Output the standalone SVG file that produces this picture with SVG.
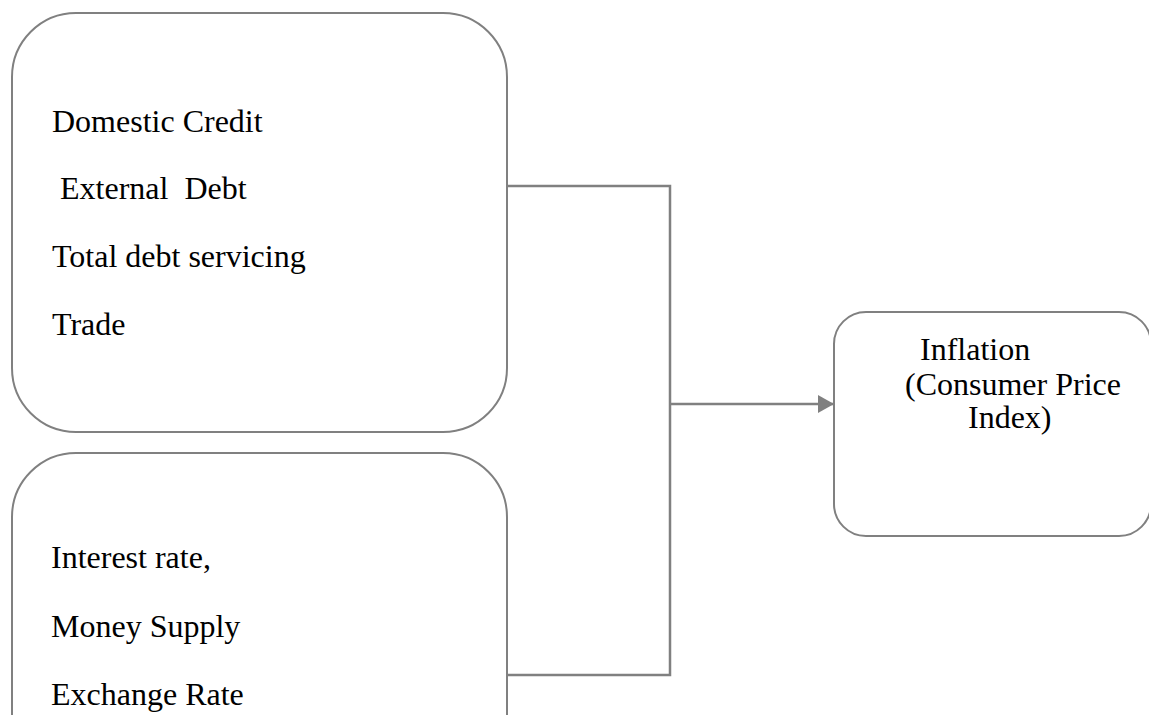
<svg xmlns="http://www.w3.org/2000/svg" width="1149" height="715" viewBox="0 0 1149 715">
<style>
.box{fill:#fff;stroke:#808080;stroke-width:2}
.t{font-family:"Liberation Serif","Times New Roman",serif;font-size:32px;fill:#000}
.c{fill:none;stroke:#808080;stroke-width:2.5}
</style>
<defs>
<marker id="arr" markerWidth="16" markerHeight="18" refX="16" refY="9" orient="auto" markerUnits="userSpaceOnUse">
<path d="M0,0 L16,9 L0,18 Z" fill="#808080"/>
</marker>
</defs>
<rect width="1149" height="715" fill="#fff"/>
<g id="connectors">
<polyline class="c" points="507,186 670,186 670,675 507,675"/>
<line class="c" x1="670" y1="404" x2="834" y2="404" marker-end="url(#arr)"/>
</g>
<g id="node-left-top">
<rect class="box" x="12" y="13" width="495" height="419" rx="64" ry="64"/>
<text class="t" x="52" y="132">Domestic Credit</text>
<text class="t" x="52" y="199" xml:space="preserve"> External  Debt</text>
<text class="t" x="52" y="267">Total debt servicing</text>
<text class="t" x="52" y="335">Trade</text>
</g>
<g id="node-left-bottom">
<rect class="box" x="12" y="453" width="495" height="340" rx="64" ry="64"/>
<text class="t" x="51" y="568">Interest rate,</text>
<text class="t" x="51" y="637">Money Supply</text>
<text class="t" x="51" y="705">Exchange Rate</text>
</g>
<g id="node-inflation">
<rect class="box" x="834" y="312" width="317" height="224" rx="32" ry="32"/>
<text class="t" x="920" y="360">Inflation</text>
<text class="t" x="905" y="395">(Consumer Price</text>
<text class="t" x="968" y="428">Index)</text>
</g>
</svg>
